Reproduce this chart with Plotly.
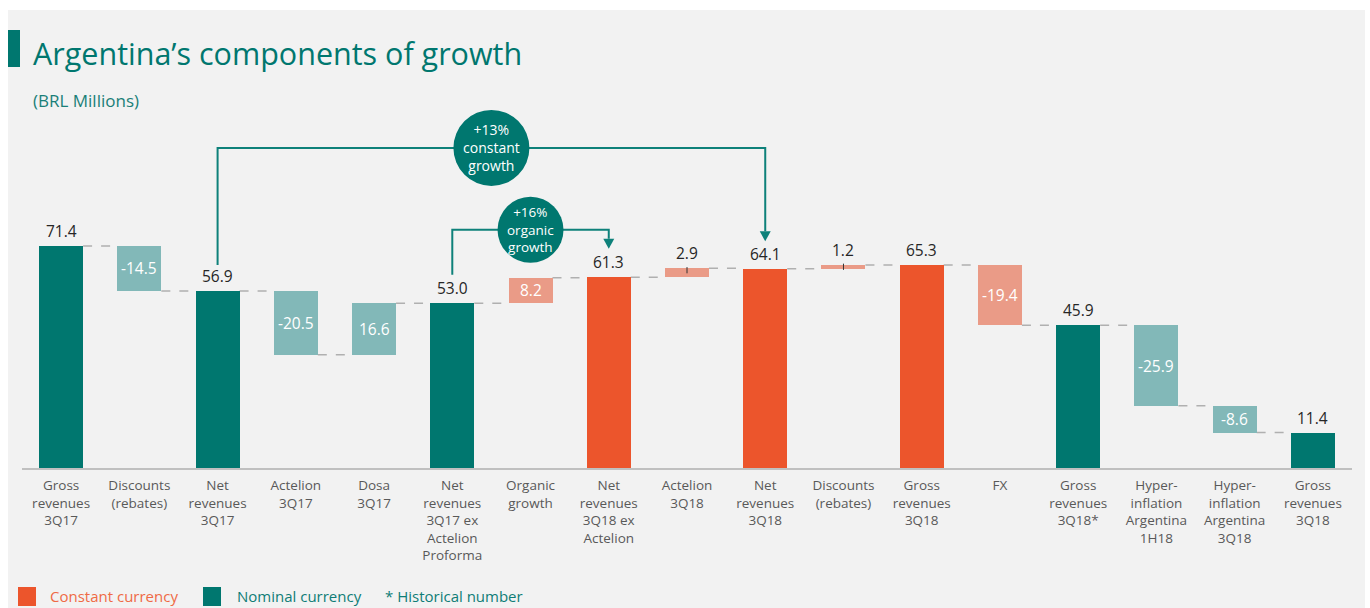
import plotly.graph_objects as go

# ---------------- data ----------------
categories = [
    "Gross<br>revenues<br>3Q17", "Discounts<br>(rebates)", "Net<br>revenues<br>3Q17",
    "Actelion<br>3Q17", "Dosa<br>3Q17",
    "Net<br>revenues<br>3Q17 ex<br>Actelion<br>Proforma", "Organic<br>growth",
    "Net<br>revenues<br>3Q18 ex<br>Actelion", "Actelion<br>3Q18", "Net<br>revenues<br>3Q18",
    "Discounts<br>(rebates)", "Gross<br>revenues<br>3Q18", "FX", "Gross<br>revenues<br>3Q18*",
    "Hyper-<br>inflation<br>Argentina<br>1H18", "Hyper-<br>inflation<br>Argentina<br>3Q18",
    "Gross<br>revenues<br>3Q18",
]
values = [71.4, -14.5, 56.9, -20.5, 16.6, 53.0, 8.2, 61.3, 2.9, 64.1, 1.2, 65.3, -19.4, 45.9, -25.9, -8.6, 11.4]
measures = ["total", "delta", "total", "delta", "delta", "total", "delta", "total", "delta",
            "total", "delta", "total", "delta", "total", "delta", "delta", "total"]
currency = ["nominal"] * 6 + ["constant"] * 7 + ["nominal"] * 4

bubble_texts = ["+13%<br>constant<br>growth", "+16%<br>organic<br>growth"]
title_text = "Argentina’s components of growth"
subtitle_text = "(BRL Millions)"
legend_texts = ["Constant currency", "Nominal currency", "* Historical number"]

# ---------------- styles ----------------
TEAL = "#00776f"
TEAL_LIGHT = "#82b8b8"
ORANGE = "#ec552c"
ORANGE_LIGHT = "#ea9b87"
LINE_TEAL = "#0e817a"
FONT = "Open Sans"
colors_map = {("total", "nominal"): TEAL, ("delta", "nominal"): TEAL_LIGHT,
              ("total", "constant"): ORANGE, ("delta", "constant"): ORANGE_LIGHT}

W, H = 1370, 608
PX_PER_UNIT = 3.11
BASE_PX = 468
BAR_W = 0.562
CAT_PX = 78.25

# ---------------- compute waterfall ----------------
bases, ends, colors = [], [], []
level = 0.0
for v, m, c in zip(values, measures, currency):
    if m == "total":
        bases.append(0.0)
        level = v
    else:
        bases.append(level)
        level = level + v
    ends.append(level)
    colors.append(colors_map[(m, c)])

xs = list(range(len(values)))

fig = go.Figure()
fig.add_trace(go.Bar(x=xs, y=values, base=bases, width=BAR_W,
                     marker=dict(color=colors, line=dict(width=0)),
                     hoverinfo="skip", showlegend=False))

shapes = []
annotations = []

# background panel
shapes.append(dict(type="rect", xref="paper", yref="paper", x0=8 / W, x1=1365 / W,
                   y0=0, y1=1 - 10 / H, fillcolor="#f2f2f2", line=dict(width=0), layer="below"))
# title accent bar
shapes.append(dict(type="rect", xref="paper", yref="paper", x0=8 / W, x1=20 / W,
                   y0=1 - 67 / H, y1=1 - 30 / H, fillcolor=TEAL, line=dict(width=0)))

# connectors
for i in range(len(values) - 1):
    shapes.append(dict(type="line", xref="x", yref="y", x0=i + BAR_W / 2, x1=i + 1 - BAR_W / 2,
                       y0=ends[i], y1=ends[i], line=dict(color="#b0b0b0", width=1.5, dash="dash"),
                       layer="below"))

# value labels
for i, (v, m) in enumerate(zip(values, measures)):
    txt = f"{v:.1f}"
    if m == "total":
        annotations.append(dict(x=i, y=v, xref="x", yref="y", text=txt, showarrow=False,
                                yanchor="bottom", yshift=2, font=dict(size=15.5, color="#262626", family=FONT)))
    elif abs(v) >= 5:
        annotations.append(dict(x=i, y=bases[i] + v / 2, xref="x", yref="y", text=txt, showarrow=False,
                                yanchor="middle", font=dict(size=15.5, color="white", family=FONT)))
    else:
        top = max(bases[i], bases[i] + v)
        annotations.append(dict(x=i, y=top, xref="x", yref="y", text=txt, showarrow=False,
                                yanchor="bottom", yshift=2, font=dict(size=15.5, color="#262626", family=FONT)))
        shapes.append(dict(type="line", xref="x", yref="y", x0=i, x1=i, y0=top + 0.4, y1=top - 1.6,
                           line=dict(color="#333333", width=1)))

# brackets with bubbles
u = 1 / PX_PER_UNIT
brackets = [
    # (left idx, right idx, bracket level, left end, arrow tip, bubble x, radius, text, font size)
    (2, 9, 102.9, values[2] + 8.4, values[9] + 8.8, 5.5, 38, bubble_texts[0], 14),
    (5, 7, 76.6, values[5] + 9.1, values[7] + 9.2, 6.0, 33, bubble_texts[1], 13.5),
]
for li, ri, yl, yleft, ytip, bx, r, t, fs in brackets:
    head = 10 * u
    shapes.append(dict(type="path", xref="x", yref="y",
                       path=f"M {li},{yleft} L {li},{yl} L {ri},{yl} L {ri},{ytip + head}",
                       line=dict(color=LINE_TEAL, width=2)))
    hw = 5.5 / CAT_PX
    shapes.append(dict(type="path", xref="x", yref="y",
                       path=f"M {ri - hw},{ytip + head} L {ri + hw},{ytip + head} L {ri},{ytip} Z",
                       fillcolor=LINE_TEAL, line=dict(width=0)))
    shapes.append(dict(type="circle", xref="x", yref="y", xsizemode="pixel", ysizemode="pixel",
                       xanchor=bx, yanchor=yl, x0=-r, x1=r, y0=-r, y1=r,
                       fillcolor=TEAL, line=dict(width=0)))
    annotations.append(dict(x=bx, y=yl, xref="x", yref="y", text=t, showarrow=False,
                            font=dict(size=fs, color="white", family=FONT)))

# title & subtitle
annotations.append(dict(x=31 / W, y=1 - 53 / H, xref="paper", yref="paper", text=title_text,
                        showarrow=False, xanchor="left", yanchor="middle",
                        font=dict(size=30.5, color=TEAL, family=FONT)))
annotations.append(dict(x=31 / W, y=1 - 100 / H, xref="paper", yref="paper", text=subtitle_text,
                        showarrow=False, xanchor="left", yanchor="middle",
                        font=dict(size=17, color="#1a7f78", family=FONT)))

# legend
leg_y = 1 - 596 / H
shapes.append(dict(type="rect", xref="paper", yref="paper", x0=18 / W, x1=36 / W,
                   y0=1 - 606 / H, y1=1 - 587 / H, fillcolor=ORANGE, line=dict(width=0)))
shapes.append(dict(type="rect", xref="paper", yref="paper", x0=203 / W, x1=221 / W,
                   y0=1 - 606 / H, y1=1 - 587 / H, fillcolor=TEAL, line=dict(width=0)))
for xpx, t, col in [(48, legend_texts[0], "#ef6a45"), (235, legend_texts[1], "#0f7d76"),
                    (383, legend_texts[2], "#0f7d76")]:
    annotations.append(dict(x=xpx / W, y=leg_y, xref="paper", yref="paper", text=t, showarrow=False,
                            xanchor="left", yanchor="middle", font=dict(size=15, color=col, family=FONT)))

fig.update_layout(
    width=W, height=H, margin=dict(l=0, r=0, t=0, b=0),
    paper_bgcolor="white", plot_bgcolor="rgba(0,0,0,0)",
    bargap=0, shapes=shapes, annotations=annotations,
    xaxis=dict(domain=[22 / W, 1352 / W], range=[-0.5, len(values) - 0.5],
               tickmode="array", tickvals=xs, ticktext=categories, ticks="",
               ticklabelstandoff=4,
               showline=True, linecolor="#c0c0c0", linewidth=2, showgrid=False, zeroline=False,
               tickfont=dict(size=13.5, color="#595959", family=FONT), fixedrange=True),
    yaxis=dict(domain=[(H - BASE_PX) / H, 1], range=[0, BASE_PX / PX_PER_UNIT],
               visible=False, showgrid=False, zeroline=False, fixedrange=True),
    font=dict(family=FONT),
)

fig.write_html("out.html")
